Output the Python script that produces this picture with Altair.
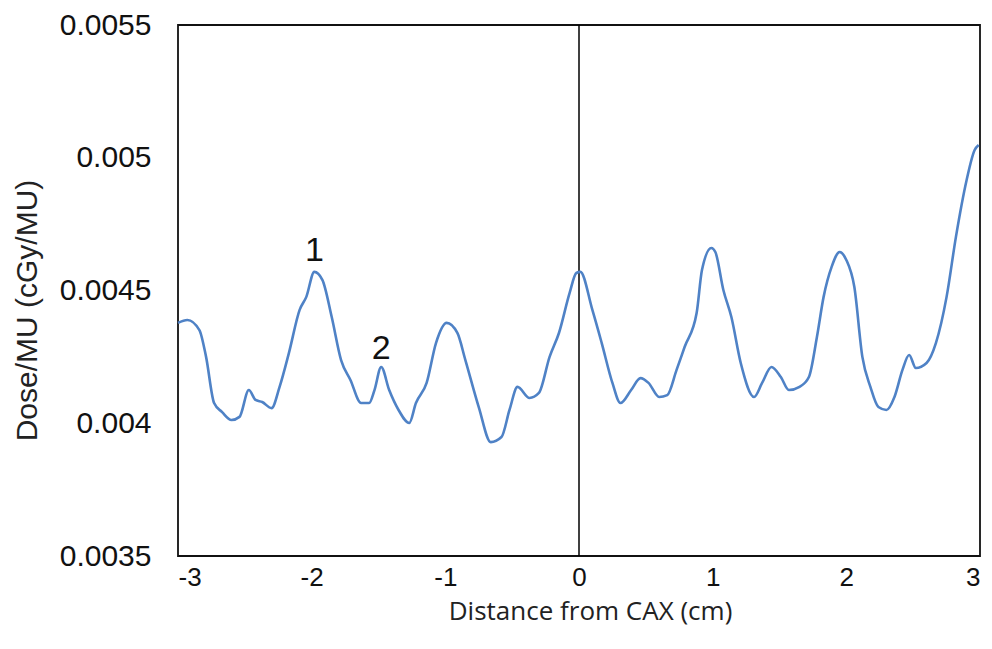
import altair as alt
import pandas as pd

# Distance from CAX (cm)
x_cm = [-3.0, -2.93, -2.84, -2.79, -2.73, -2.67, -2.60, -2.54, -2.47, -2.42, -2.37, -2.30, -2.24,
        -2.17, -2.09, -2.04, -1.98, -1.92, -1.85, -1.78, -1.71, -1.63, -1.57, -1.53, -1.48, -1.42,
        -1.35, -1.27, -1.22, -1.14, -1.07, -0.99, -0.91, -0.85, -0.75, -0.66, -0.58, -0.52, -0.46,
        -0.37, -0.30, -0.22, -0.15, -0.07, -0.02, 0.01, 0.10, 0.17, 0.25, 0.31, 0.39, 0.46, 0.52,
        0.60, 0.66, 0.73, 0.79, 0.88, 0.92, 0.99, 1.02, 1.08, 1.14, 1.21, 1.31, 1.37, 1.44, 1.51,
        1.57, 1.65, 1.72, 1.78, 1.83, 1.89, 1.95, 2.00, 2.06, 2.12, 2.18, 2.24, 2.30, 2.36, 2.42,
        2.47, 2.52, 2.60, 2.67, 2.75, 2.82, 2.90, 2.96, 2.99]
# Dose/MU (cGy/MU)
dose = [0.004378, 0.004389, 0.004351, 0.004250, 0.004076, 0.004042, 0.004012, 0.004024, 0.004125,
        0.004088, 0.004080, 0.004057, 0.004137, 0.004265, 0.004427, 0.004476, 0.004570, 0.004540,
        0.004400, 0.004238, 0.004163, 0.004076, 0.004076, 0.004125, 0.004212, 0.004125, 0.004050,
        0.004001, 0.004076, 0.004152, 0.004302, 0.004378, 0.004340, 0.004238, 0.004061, 0.003929,
        0.003948, 0.004050, 0.004137, 0.004095, 0.004114, 0.004250, 0.004340, 0.004491, 0.004566,
        0.004570, 0.004427, 0.004302, 0.004152, 0.004076, 0.004125, 0.004170, 0.004152, 0.004099,
        0.004106, 0.004201, 0.004287, 0.004415, 0.004577, 0.004660, 0.004645, 0.004502, 0.004400,
        0.004227, 0.004099, 0.004152, 0.004212, 0.004174, 0.004125, 0.004137, 0.004174, 0.004325,
        0.004476, 0.004589, 0.004645, 0.004615, 0.004513, 0.004250, 0.004137, 0.004061, 0.004050,
        0.004099, 0.004201, 0.004257, 0.004208, 0.004227, 0.004302, 0.004476, 0.004702, 0.004916,
        0.005029, 0.005048]

label_text = ["1", "2"]
label_x = [-1.98, -1.48]
label_y = [0.004612, 0.004243]

x_ticks = [-3, -2, -1, 0, 1, 2, 3]
y_ticks = [0.0035, 0.004, 0.0045, 0.005, 0.0055]

df = pd.DataFrame({"x": x_cm, "y": dose})
lab = pd.DataFrame({"t": label_text, "x": label_x, "y": label_y})

xs = alt.Scale(domain=[-3, 3], nice=False, zero=False)
ys = alt.Scale(domain=[0.0035, 0.0055], nice=False, zero=False)

line = alt.Chart(df).mark_line(color="#4f82c6", strokeWidth=2.6, interpolate="monotone").encode(
    x=alt.X("x:Q", scale=xs, title="Distance from CAX (cm)",
            axis=alt.Axis(values=x_ticks, labelExpr="datum.value + ''", grid=False, ticks=False,
                          domain=False, labelFontSize=26, labelFont="Liberation Sans",
                          labelColor="#111", labelPadding=8, titleFont="Open Sans",
                          titleFontSize=26, titleFontWeight="normal", titleColor="#222",
                          titlePadding=8, titleX=412)),
    y=alt.Y("y:Q", scale=ys, title="Dose/MU (cGy/MU)",
            axis=alt.Axis(values=y_ticks, format="~g", grid=False, ticks=False, domain=False,
                          labelFontSize=30, labelFont="Liberation Sans", labelColor="#111",
                          labelPadding=27, titleFont="Liberation Sans", titleFontSize=30,
                          titleFontWeight="normal", titleColor="#222", titlePadding=17,
                          titleY=285)),
)

zero_rule = alt.Chart(pd.DataFrame({"x": [0]})).mark_rule(color="#000", strokeWidth=1.5).encode(
    x=alt.X("x:Q", scale=xs)
)

texts = alt.Chart(lab).mark_text(fontSize=34, font="Liberation Sans", color="#111",
                                 baseline="alphabetic").encode(
    x=alt.X("x:Q", scale=xs), y=alt.Y("y:Q", scale=ys), text="t:N"
)

chart = alt.layer(zero_rule, line, texts).properties(
    width=802, height=531,
    autosize=alt.AutoSizeParams(type="none"),
    padding={"left": 170, "top": 17, "right": 4, "bottom": 80},
    background="white",
).configure_view(stroke="#111", strokeWidth=1.8)

chart.save("out.html", embed_options={"renderer": "svg", "actions": False})
